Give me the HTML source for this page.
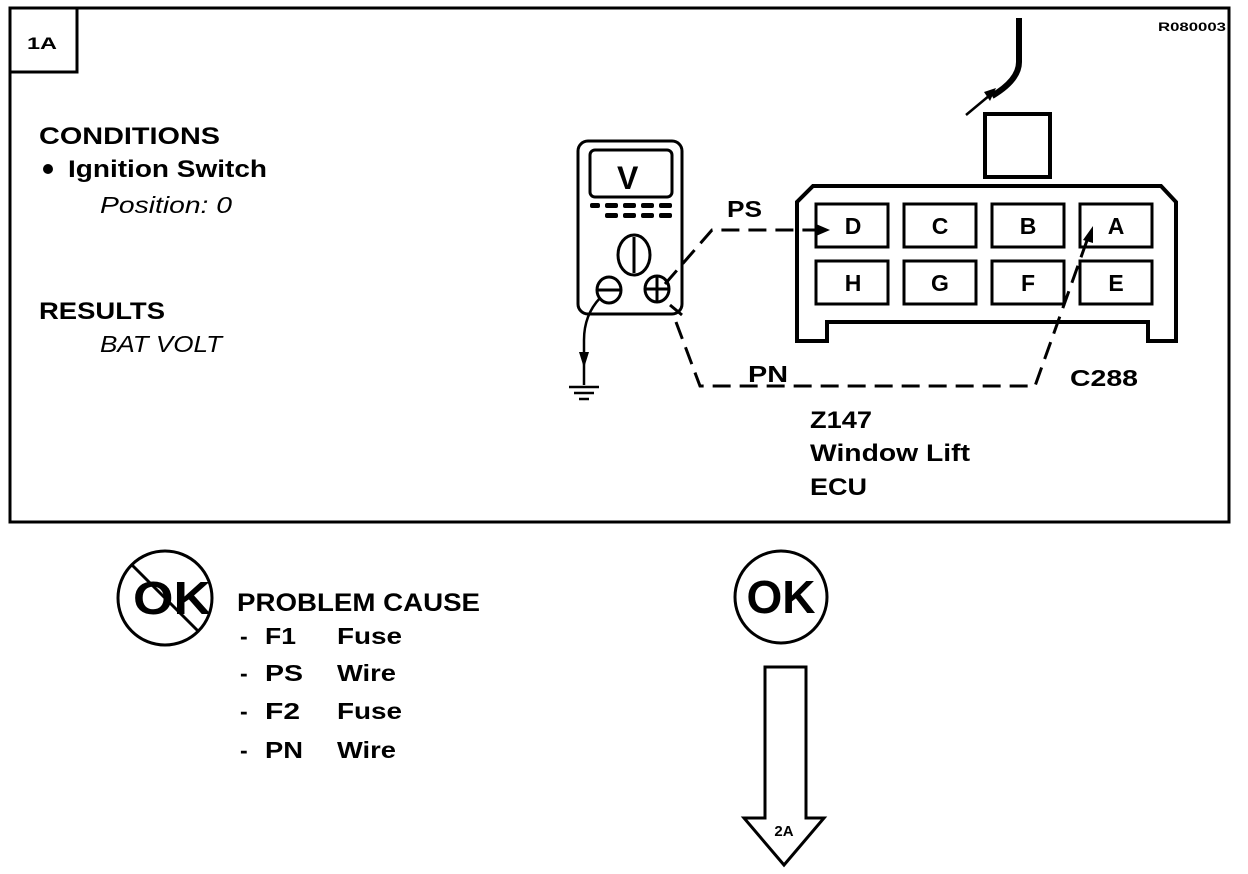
<!DOCTYPE html>
<html><head><style>
html,body{margin:0;padding:0;background:#fff;}
svg{display:block;}
text{font-family:"Liberation Sans",Arial,sans-serif;font-weight:bold;fill:#000;}
.it{font-style:italic;font-weight:normal;}
</style></head><body>
<svg width="1248" height="874" viewBox="0 0 1248 874" xmlns="http://www.w3.org/2000/svg">
<rect x="0" y="0" width="1248" height="874" fill="#fff"/>
<rect x="10" y="8" width="1219" height="514" fill="none" stroke="#000" stroke-width="3"/>
<rect x="10" y="8" width="67" height="64" fill="none" stroke="#000" stroke-width="3"/>
<text x="27" y="49" font-size="17" textLength="30" lengthAdjust="spacingAndGlyphs">1A</text>
<text x="1158" y="31" font-size="12" textLength="68" lengthAdjust="spacingAndGlyphs">R080003</text>

<text x="39" y="144" font-size="24" textLength="181" lengthAdjust="spacingAndGlyphs">CONDITIONS</text>
<circle cx="48" cy="169" r="5" fill="#000"/>
<text x="68" y="177" font-size="24" textLength="199" lengthAdjust="spacingAndGlyphs">Ignition Switch</text>
<text x="100" y="213" font-size="23" class="it" textLength="132" lengthAdjust="spacingAndGlyphs">Position: 0</text>
<text x="39" y="319" font-size="24" textLength="126" lengthAdjust="spacingAndGlyphs">RESULTS</text>
<text x="100" y="352" font-size="23" class="it" textLength="122" lengthAdjust="spacingAndGlyphs">BAT VOLT</text>

<!-- multimeter -->
<rect x="578" y="141" width="104" height="173" rx="10" fill="none" stroke="#000" stroke-width="3"/>
<rect x="590" y="150" width="82" height="47" rx="5" fill="none" stroke="#000" stroke-width="3"/>
<text x="617" y="189" font-size="32">V</text>
<g fill="#000">
<rect x="590" y="203" width="10" height="5" rx="2"/><rect x="605" y="203" width="13" height="5" rx="2"/><rect x="623" y="203" width="13" height="5" rx="2"/><rect x="641" y="203" width="13" height="5" rx="2"/><rect x="659" y="203" width="13" height="5" rx="2"/>
<rect x="605" y="213" width="13" height="5" rx="2"/><rect x="623" y="213" width="13" height="5" rx="2"/><rect x="641" y="213" width="13" height="5" rx="2"/><rect x="659" y="213" width="13" height="5" rx="2"/>
</g>
<ellipse cx="634" cy="255" rx="16" ry="20" fill="none" stroke="#000" stroke-width="3"/>
<line x1="634" y1="237" x2="634" y2="273" stroke="#000" stroke-width="3"/>
<ellipse cx="609" cy="290" rx="12" ry="13" fill="none" stroke="#000" stroke-width="3"/>
<line x1="598" y1="290" x2="620" y2="290" stroke="#000" stroke-width="3"/>
<ellipse cx="657" cy="289" rx="12" ry="13" fill="none" stroke="#000" stroke-width="3"/>
<line x1="645" y1="289" x2="669" y2="289" stroke="#000" stroke-width="3"/>
<line x1="657" y1="277" x2="657" y2="301" stroke="#000" stroke-width="3"/>
<path d="M600 298 Q584 315 584 340 L584 385" fill="none" stroke="#000" stroke-width="2.5"/>
<polygon points="579,352 589,352 584,368" fill="#000"/>
<line x1="569" y1="387" x2="599" y2="387" stroke="#000" stroke-width="2.5"/>
<line x1="574" y1="393" x2="594" y2="393" stroke="#000" stroke-width="2.5"/>
<line x1="579" y1="399" x2="589" y2="399" stroke="#000" stroke-width="2.5"/>

<!-- wires -->
<path d="M665 284 L712 230 L822 230" fill="none" stroke="#000" stroke-width="3" stroke-dasharray="18,9"/>
<polygon points="816,224 830,230 816,236" fill="#000"/>
<text x="727" y="217" font-size="23" textLength="35" lengthAdjust="spacingAndGlyphs">PS</text>
<path d="M670 305 L682 315 M676 322 L700 386 L1035 386 L1090 232" fill="none" stroke="#000" stroke-width="3" stroke-dasharray="18,9"/>
<polygon points="1083,240 1093,226 1093,243" fill="#000"/>
<text x="748" y="382" font-size="23" textLength="40" lengthAdjust="spacingAndGlyphs">PN</text>
<text x="1070" y="386" font-size="23" textLength="68" lengthAdjust="spacingAndGlyphs">C288</text>
<text x="810" y="428" font-size="24" textLength="62" lengthAdjust="spacingAndGlyphs">Z147</text>
<text x="810" y="461" font-size="24" textLength="160" lengthAdjust="spacingAndGlyphs">Window Lift</text>
<text x="810" y="495" font-size="24" textLength="57" lengthAdjust="spacingAndGlyphs">ECU</text>

<!-- connector -->
<path d="M797 341 L797 202 L813 186 L1161 186 L1176 202 L1176 341 L1148 341 L1148 322 L827 322 L827 341 Z" fill="none" stroke="#000" stroke-width="4"/>
<g fill="none" stroke="#000" stroke-width="3">
<rect x="816" y="204" width="72" height="43"/><rect x="904" y="204" width="72" height="43"/><rect x="992" y="204" width="72" height="43"/><rect x="1080" y="204" width="72" height="43"/>
<rect x="816" y="261" width="72" height="43"/><rect x="904" y="261" width="72" height="43"/><rect x="992" y="261" width="72" height="43"/><rect x="1080" y="261" width="72" height="43"/>
</g>
<g font-size="23" text-anchor="middle">
<text x="853" y="234">D</text><text x="940" y="234">C</text><text x="1028" y="234">B</text><text x="1116" y="234">A</text>
<text x="853" y="291">H</text><text x="940" y="291">G</text><text x="1028" y="291">F</text><text x="1116" y="291">E</text>
</g>
<rect x="985" y="114" width="65" height="63" fill="none" stroke="#000" stroke-width="4"/>
<path d="M1019 18 L1019 62 Q1019 80 992 96" fill="none" stroke="#000" stroke-width="6"/>
<line x1="966" y1="115" x2="990" y2="95" stroke="#000" stroke-width="2.5"/>
<polygon points="984,92 996,88 990,101" fill="#000"/>

<!-- bottom -->
<circle cx="165" cy="598" r="47" fill="none" stroke="#000" stroke-width="3"/>
<line x1="131" y1="564" x2="199" y2="632" stroke="#000" stroke-width="3"/>
<text x="133" y="614" font-size="46" textLength="78" lengthAdjust="spacingAndGlyphs">OK</text>
<text x="237" y="611" font-size="25" textLength="243" lengthAdjust="spacingAndGlyphs">PROBLEM CAUSE</text>
<g font-size="23">
<text x="240" y="644">-</text><text x="265" y="644" textLength="31" lengthAdjust="spacingAndGlyphs">F1</text><text x="337" y="644" textLength="65" lengthAdjust="spacingAndGlyphs">Fuse</text>
<text x="240" y="681">-</text><text x="265" y="681" textLength="38" lengthAdjust="spacingAndGlyphs">PS</text><text x="337" y="681" textLength="59" lengthAdjust="spacingAndGlyphs">Wire</text>
<text x="240" y="719">-</text><text x="265" y="719" textLength="35" lengthAdjust="spacingAndGlyphs">F2</text><text x="337" y="719" textLength="65" lengthAdjust="spacingAndGlyphs">Fuse</text>
<text x="240" y="758">-</text><text x="265" y="758" textLength="38" lengthAdjust="spacingAndGlyphs">PN</text><text x="337" y="758" textLength="59" lengthAdjust="spacingAndGlyphs">Wire</text>
</g>
<circle cx="781" cy="597" r="46" fill="none" stroke="#000" stroke-width="3"/>
<text x="781" y="613" font-size="46" text-anchor="middle">OK</text>
<path d="M765 667 L806 667 L806 818 L824 818 L784 865 L744 818 L765 818 Z" fill="none" stroke="#000" stroke-width="3"/>
<text x="784" y="836" font-size="15" text-anchor="middle">2A</text>
</svg>
</body></html>
